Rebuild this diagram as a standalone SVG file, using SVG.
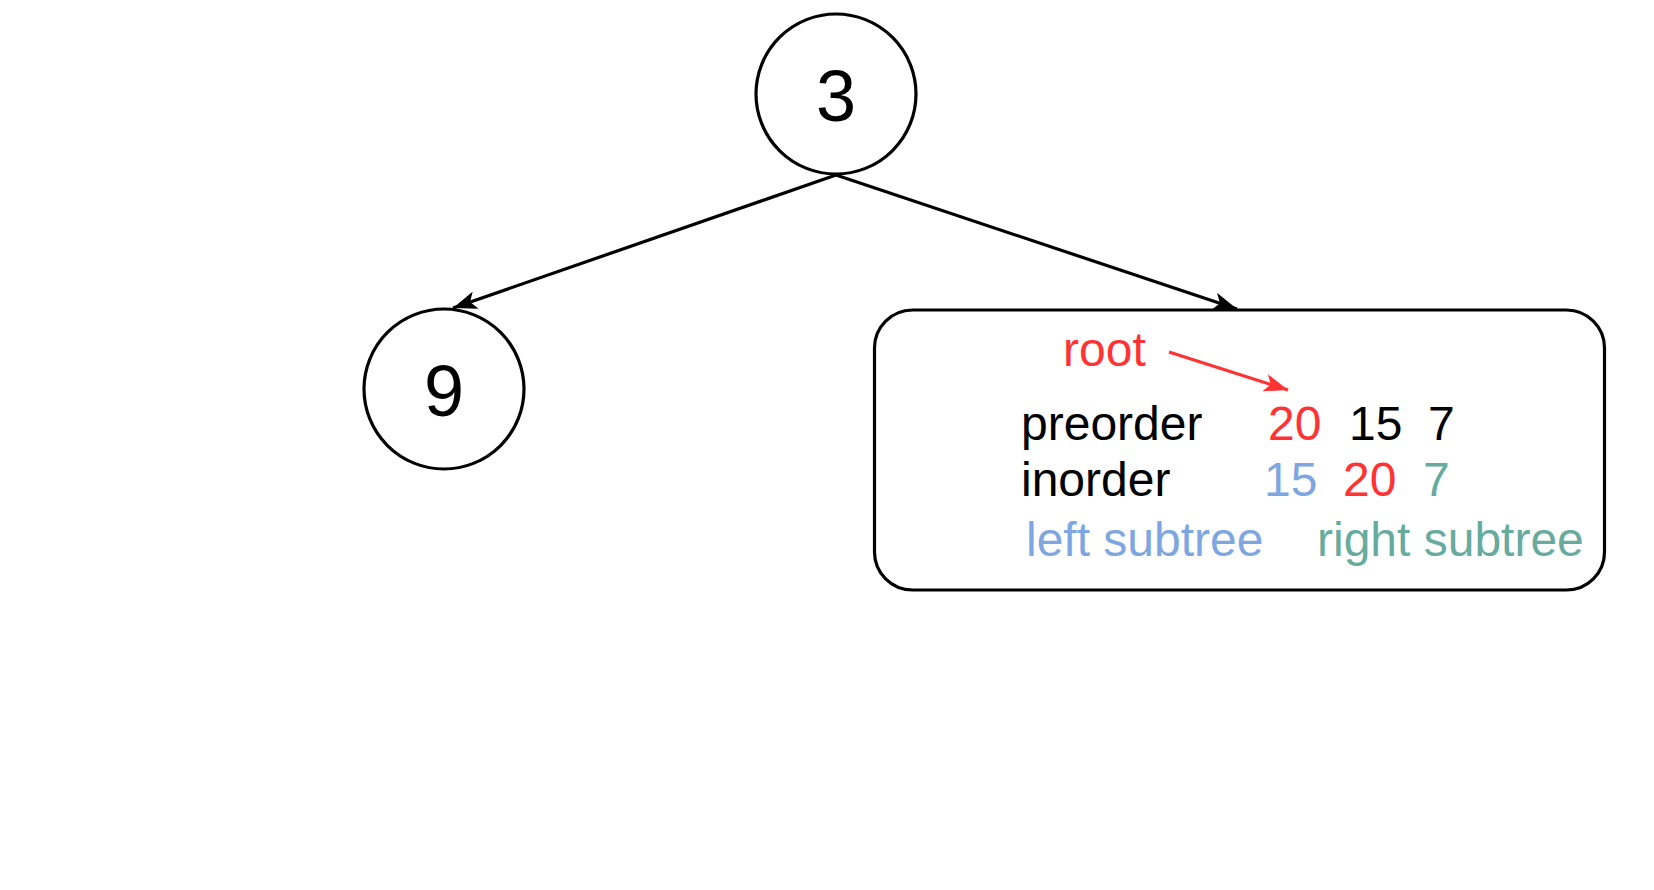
<svg xmlns="http://www.w3.org/2000/svg" width="1654" height="890" viewBox="0 0 1654 890">
<style>
.node{fill:#fff;stroke:#000;stroke-width:3.2}
.big{font-family:"Liberation Sans",Arial,sans-serif;font-size:72px;fill:#000;text-anchor:middle}
.t{font-family:"Liberation Sans",Arial,sans-serif;font-size:48px;fill:#000}
.red{fill:#FF3333}.blue{fill:#7EA6E0}.green{fill:#67AB9F}
.edge{fill:none;stroke:#000;stroke-width:3.2}
</style>
<defs>
<marker id="ah" viewBox="0 0 24 18" refX="24" refY="9" markerWidth="24" markerHeight="18" markerUnits="userSpaceOnUse" orient="auto">
<path d="M0,0 L24,9 L0,18 L6,9 Z" fill="#000"/>
</marker>
<marker id="ahr" viewBox="0 0 24 18" refX="24" refY="9" markerWidth="24" markerHeight="18" markerUnits="userSpaceOnUse" orient="auto">
<path d="M0,0 L24,9 L0,18 L6,9 Z" fill="#FF3333"/>
</marker>
</defs>
<rect width="1654" height="890" fill="#fff"/>
<g id="node-3">
<circle class="node" cx="836" cy="94" r="80"/>
<text class="big" x="836" y="121">3</text>
</g>
<g id="node-9">
<circle class="node" cx="444" cy="389" r="80"/>
<text class="big" x="444" y="416">9</text>
</g>
<g id="node-right">
<rect class="node" x="874.5" y="310" width="730" height="280" rx="38" ry="38"/>
<text class="t red" x="1063" y="366">root</text>
<text class="t" x="1021" y="440">preorder</text>
<text class="t red" x="1268" y="440">20</text>
<text class="t" x="1349" y="440">15</text>
<text class="t" x="1428" y="440">7</text>
<text class="t" x="1021" y="496">inorder</text>
<text class="t blue" x="1264" y="496">15</text>
<text class="t red" x="1343" y="496">20</text>
<text class="t green" x="1423" y="496">7</text>
<text class="t blue" x="1026" y="556">left subtree</text>
<text class="t green" x="1317" y="556">right subtree</text>
</g>
<g id="connectors">
<line class="edge" x1="836" y1="175" x2="453" y2="308" marker-end="url(#ah)"/>
<line class="edge" x1="836" y1="175" x2="1237" y2="309" marker-end="url(#ah)"/>
<line x1="1169" y1="352" x2="1288" y2="390" stroke="#FF3333" stroke-width="3.2" marker-end="url(#ahr)"/>
</g>
</svg>
